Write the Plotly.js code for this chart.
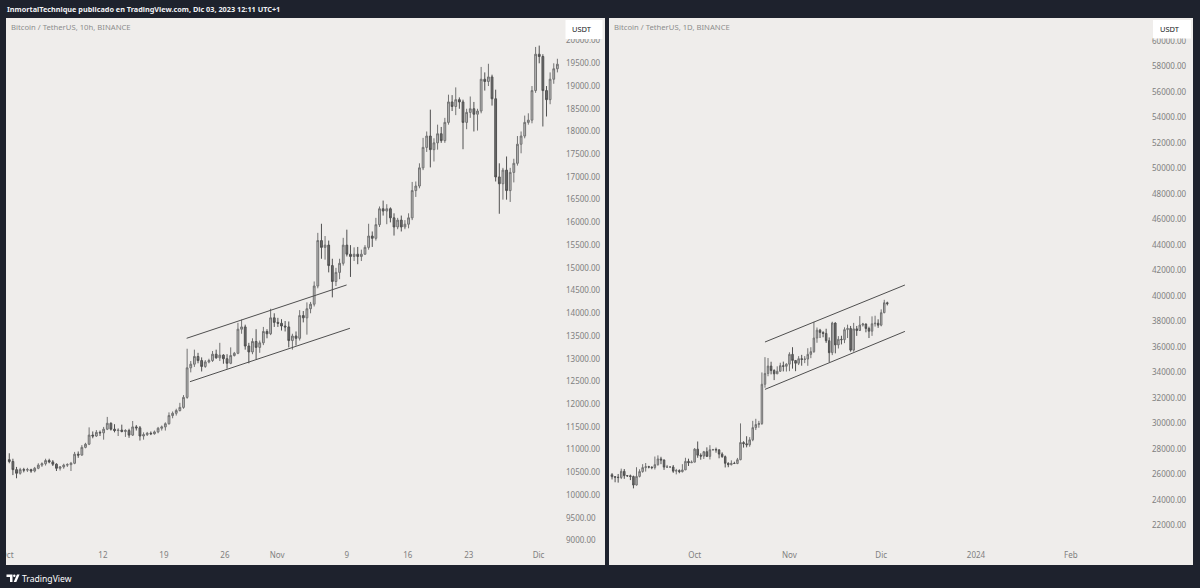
<!DOCTYPE html>
<html><head><meta charset="utf-8">
<script src="https://cdn.plot.ly/plotly-3.0.1.min.js"></script>
<style>html,body{margin:0;padding:0;background:#1e222d;}#chart{width:1200px;height:588px;}</style>
</head><body><div id="chart"></div>
<script>
// ---------- Left chart: Bitcoin / TetherUS, 10h, BINANCE (2020) ----------
const LEFT_START = '2020-10-01T06:00:00Z';
const LEFT_STEP_HOURS = 10;
const leftOpen = [10780,10740,10560,10480,10560,10550,10560,10530,10590,10660,
10690,10760,10730,10680,10590,10620,10660,10670,10700,10900,
10880,11050,11120,11320,11300,11380,11370,11450,11580,11450,
11420,11430,11400,11420,11320,11500,11480,11300,11330,11360,
11350,11390,11470,11500,11570,11750,11800,11860,11930,12150,
12800,12880,13050,12960,12830,12930,12960,13100,13020,13080,
13000,12900,13070,13120,13650,13700,13280,13150,13380,13250,
13350,13600,13550,13900,13800,13780,13720,13700,13400,13500,
13450,13950,13900,14100,14200,14600,15600,15450,15500,15050,
14700,14900,15100,15500,15300,15250,15300,15250,15300,15450,
15700,15650,15950,16300,16250,16300,16100,15900,16050,15900,
15960,16100,16700,16800,17200,17650,17900,17600,17750,17950,
17800,18200,18650,18550,18700,18650,18200,18420,18500,18380,
18450,19150,19100,19200,18720,17000,16850,17150,16700,17100,
17300,17720,17900,18200,18250,18900,19700,19650,18900,18700,
19150,19380];
const leftHigh = [10920,10800,10620,10600,10600,10600,10580,10620,10700,10720,
10800,10800,10770,10700,10640,10690,10700,10730,10950,10960,
11100,11150,11490,11400,11430,11420,11500,11720,11600,11560,
11470,11550,11450,11460,11630,11540,11520,11380,11390,11400,
11420,11500,11530,11600,11820,11840,11900,12030,12200,13220,
12950,13200,13130,13030,12970,13000,13170,13200,13350,13100,
13100,13250,13150,13790,13860,13750,13350,13450,13650,13400,
13700,13650,14100,14000,13900,13870,13830,13820,13550,13600,
14070,14050,14240,14250,14700,15770,15970,15700,15600,15200,
15000,15200,15660,15840,15500,15450,15460,15400,15500,15970,
15800,16100,16350,16480,16400,16330,16200,16100,16150,16050,
16200,16890,16900,17300,17860,18000,18480,17850,18150,18100,
18300,18810,18800,18970,18750,18700,18500,18770,18650,18500,
19420,19300,19490,19250,18920,17300,17200,17450,17200,17400,
17900,18000,18350,18400,19000,19860,19890,19700,19000,19300,
19500,19600];
const leftLow = [10700,10440,10370,10450,10500,10510,10490,10500,10570,10620,
10650,10700,10640,10530,10540,10580,10620,10530,10680,10820,
10870,11030,11100,11250,11280,11300,11220,11430,11420,11380,
11300,11380,11280,11260,11300,11420,11200,11220,11300,11320,
11330,11360,11420,11420,11550,11690,11750,11840,11900,12120,
12700,12820,12900,12720,12800,12900,12930,13000,12950,12890,
12780,12880,13050,13100,13550,13200,12900,13100,12990,13130,
13300,13450,13520,13700,13700,13620,13600,13250,13200,13290,
13400,13800,13530,14000,14150,14550,15200,15180,14900,14350,
14600,14750,15050,15250,14800,15150,15080,15150,15290,15400,
15460,15600,15900,16150,15960,16000,15710,15850,15800,15850,
15870,16050,16560,16750,17150,17550,17210,17340,17600,17750,
17750,18150,18450,18360,18500,17610,18050,18300,18000,18020,
18400,18900,19000,18570,16900,16190,16500,16500,16450,16880,
17250,17520,17850,18150,18180,18850,19500,18110,18330,18600,
19050,19300];
const leftClose = [10740,10560,10480,10560,10550,10560,10530,10590,10660,10690,
10760,10730,10680,10590,10620,10660,10670,10700,10900,10880,
11050,11120,11320,11300,11380,11370,11450,11580,11450,11420,
11430,11400,11420,11320,11500,11480,11300,11330,11360,11350,
11390,11470,11500,11570,11750,11800,11860,11930,12150,12800,
12880,13050,12960,12830,12930,12960,13100,13020,13080,13000,
12900,13070,13120,13650,13700,13280,13150,13380,13250,13350,
13600,13550,13900,13800,13780,13720,13700,13400,13500,13450,
13950,13900,14100,14200,14600,15600,15450,15500,15050,14700,
14900,15100,15500,15300,15250,15300,15250,15300,15450,15700,
15650,15950,16300,16250,16300,16100,15900,16050,15900,15960,
16100,16700,16800,17200,17650,17900,17600,17750,17950,17800,
18200,18650,18550,18700,18650,18200,18420,18500,18380,18450,
19150,19100,19200,18720,17000,16850,17150,16700,17100,17300,
17720,17900,18200,18250,18900,19700,19650,18900,18700,19150,
19380,19480];
const leftTickDates = ['2020-10-01','2020-10-12','2020-10-19','2020-10-26','2020-11-01','2020-11-09','2020-11-16','2020-11-23','2020-12-01'];
const leftTickText = ['Oct','12','19','26','Nov','9','16','23','Dic'];
const leftPriceTicks = [9000,9500,10000,10500,11000,11500,12000,12500,13000,13500,14000,14500,15000,15500,16000,16500,17000,17500,18000,18500,19000,19500,20000];
// channel lines drawn on the left chart
const leftUpperLineX = ['2020-10-21 14:40','2020-11-08 23:20'];
const leftUpperLineY = [13450,14623];
const leftLowerLineX = ['2020-10-21 23:45','2020-11-09 08:30'];
const leftLowerLineY = [12495,13670];

// ---------- Right chart: Bitcoin / TetherUS, 1D, BINANCE (2023) ----------
const RIGHT_START = '2023-09-03T00:00:00Z';
const rightOpen = [25870,25970,25815,25780,25750,26240,25900,25890,25830,25160,25840,26220,26530,26600,26570,26530,26760,27210,27130,26570,26580,26580,26250,26300,26210,26350,27020,26910,
26960,27980,27500,27430,27780,27410,27930,27950,27920,27590,27390,26870,26760,26860,26850,27150,28500,28400,28320,28710,29670,29910,29990,33070,33920,34500,34150,33890,34090,34530,34480,
34650,35420,34940,34720,35080,35020,35050,35420,35630,36700,37320,37140,37060,36490,35550,37880,36160,36600,36570,37360,37450,35750,37420,37290,37720,37800,37450,37240,37820,37860,
37710,38690,39470];
const rightHigh = [26130,26100,25850,26030,26450,26420,25950,25980,25900,26560,26400,26800,26890,26670,26620,27400,27490,27380,27160,26740,26630,26730,26430,26390,26800,27300,27230,27090,
28060,28580,27650,27840,28120,28290,28000,28100,27980,27730,27480,26940,27100,26990,27290,30000,28600,28990,28920,30200,30360,30200,34000,35200,35130,34840,34250,34480,34760,34850,34720,
35580,35980,34950,35280,35380,35280,35900,35980,37970,37530,37420,37230,37430,36750,37980,37930,36850,36880,37540,37750,37650,37890,37650,38420,37890,37840,37590,38400,38450,38170,
38950,39700,39550];
const rightLow = [25780,25600,25380,25350,25630,25650,25800,25550,24900,25130,25760,26130,26220,26470,26400,26380,26680,26800,26350,26500,26520,26120,26000,26090,26150,26340,26660,26890,
26950,27300,27150,27210,27360,27170,27850,27700,27260,27300,26540,26560,26700,26820,26800,27110,28100,28120,28170,28600,29480,29660,29880,32800,33700,33850,33400,33870,34050,34080,34070,
34100,34300,34100,34580,34530,34730,34520,35120,35540,36330,36700,36760,36320,34800,35360,35500,35880,36200,36300,36700,35630,35630,36870,37250,37600,37150,36700,36870,37600,37500,
37620,38650,39260];
const rightClose = [25970,25815,25780,25750,26240,25900,25890,25830,25160,25840,26220,26530,26600,26570,26530,26760,27210,27130,26570,26580,26580,26250,26300,26210,26350,27020,26910,26960,
27980,27500,27430,27780,27410,27930,27950,27920,27590,27390,26870,26760,26860,26850,27150,28500,28400,28320,28710,29670,29910,29990,33070,33920,34500,34150,33890,34090,34530,34480,34650,
35420,34940,34720,35080,35020,35050,35420,35630,36700,37320,37140,37060,36490,35550,37880,36160,36600,36570,37360,37450,35750,37420,37290,37720,37800,37450,37240,37820,37860,37710,
38690,39470,39400];
const rightTickDates = ['2023-10-01','2023-11-01','2023-12-01','2024-01-01','2024-02-01'];
const rightTickText = ['Oct','Nov','Dic','2024','Feb'];
const rightPriceTicks = [22000,24000,26000,28000,30000,32000,34000,36000,38000,40000,42000,44000,46000,48000,50000,52000,54000,56000,58000,60000];
const rightUpperLineX = ['2023-10-24','2023-12-08 18:00'];
const rightUpperLineY = [36389,40863];
const rightLowerLineX = ['2023-10-24','2023-12-08 18:00'];
const rightLowerLineY = [32669,37221];

// ---------- texts ----------
const headerText = 'InmortalTechnique publicado en TradingView.com, Dic 03, 2023 12:11 UTC+1';
const leftLegend = 'Bitcoin / TetherUS, 10h, BINANCE';
const rightLegend = 'Bitcoin / TetherUS, 1D, BINANCE';
const currencyText = 'USDT';
const brandText = 'TradingView';

// ---------- build ----------
function fmt(d){ return d.toISOString().slice(0,16).replace('T',' '); }
const leftTimes = leftClose.map((_, i) => fmt(new Date(Date.parse(LEFT_START) + i*LEFT_STEP_HOURS*3600000)));
const rightTimes = rightClose.map((_, i) => fmt(new Date(Date.parse(RIGHT_START) + i*86400000)));

const W = 1200, H = 588;
const X = px => px / W;
const Y = py => 1 - py / H;
const FONT = 'Noto Sans, Liberation Sans, sans-serif';
const DARK = '#1e222d', PANEL = '#efedeb', TICK = '#808080';

const candleStyle = {
  increasing: {line: {color: '#727272', width: 1}, fillcolor: '#bcbcbc'},
  decreasing: {line: {color: '#505050', width: 1}, fillcolor: '#6c6c6c'},
  whiskerwidth: 0, showlegend: false, hoverinfo: 'skip'
};
const lineStyle = {mode: 'lines', line: {color: '#4f4f4f', width: 1}, showlegend: false, hoverinfo: 'skip'};

const traces = [
  Object.assign({type: 'candlestick', x: leftTimes, open: leftOpen, high: leftHigh, low: leftLow, close: leftClose, xaxis: 'x', yaxis: 'y'}, candleStyle),
  Object.assign({type: 'scatter', x: leftUpperLineX, y: leftUpperLineY, xaxis: 'x', yaxis: 'y'}, lineStyle),
  Object.assign({type: 'scatter', x: leftLowerLineX, y: leftLowerLineY, xaxis: 'x', yaxis: 'y'}, lineStyle),
  Object.assign({type: 'candlestick', x: rightTimes, open: rightOpen, high: rightHigh, low: rightLow, close: rightClose, xaxis: 'x2', yaxis: 'y2'}, candleStyle),
  Object.assign({type: 'scatter', x: rightUpperLineX, y: rightUpperLineY, xaxis: 'x2', yaxis: 'y2'}, lineStyle),
  Object.assign({type: 'scatter', x: rightLowerLineX, y: rightLowerLineY, xaxis: 'x2', yaxis: 'y2'}, lineStyle)
];

const tickFont = {family: FONT, size: 8, color: TICK};
const xBase = {type: 'date', showgrid: false, zeroline: false, showline: false, ticks: '', tickfont: tickFont,
  rangeslider: {visible: false}, fixedrange: true, automargin: false, tickmode: 'array'};
const yBase = {side: 'right', showgrid: false, zeroline: false, showline: false, ticks: '', tickfont: tickFont,
  tickformat: '.2f', fixedrange: true, automargin: false, tickmode: 'array', domain: [Y(549), Y(18)]};

const rect = (x0, y0, x1, y1, color, layer) => ({type: 'rect', xref: 'paper', yref: 'paper',
  x0: X(x0), x1: X(x1), y0: Y(y1), y1: Y(y0), fillcolor: color, line: {width: 0}, layer: layer});
const pathPx = pts => 'M' + pts.map(p => X(p[0]) + ',' + Y(p[1])).join(' L') + ' Z';
const note = (text, px, py, size, color, weight) => ({text: text, xref: 'paper', yref: 'paper', x: X(px), y: Y(py),
  xanchor: 'left', yanchor: 'middle', showarrow: false, font: {family: FONT, size: size, color: color, weight: weight || 'normal'}});

const layout = {
  width: W, height: H, margin: {l: 0, r: 0, t: 0, b: 0},
  paper_bgcolor: DARK, plot_bgcolor: 'rgba(0,0,0,0)', hovermode: false, showlegend: false,
  xaxis: Object.assign({}, xBase, {domain: [X(6), X(565)], anchor: 'y',
    range: ['2020-09-30 21:00', '2020-12-04 01:00'], tickvals: leftTickDates, ticktext: leftTickText}),
  yaxis: Object.assign({}, yBase, {anchor: 'x', range: [8814, 20497], tickvals: leftPriceTicks}),
  xaxis2: Object.assign({}, xBase, {domain: [X(610), X(1151)], anchor: 'y2',
    range: ['2023-09-03 08:00', '2024-02-27 05:00'], tickvals: rightTickDates, ticktext: rightTickText}),
  yaxis2: Object.assign({}, yBase, {anchor: 'x2', range: [20141, 61821], tickvals: rightPriceTicks}),
  shapes: [
    rect(6, 18, 605, 565, PANEL, 'below'),
    rect(609, 18, 1193, 565, PANEL, 'below'),
    rect(0, 0, 6, 588, DARK, 'above'),
    rect(565.5, 20, 602.5, 39, '#ffffff', 'above'),
    rect(1153, 20, 1191, 38.5, '#ffffff', 'above'),
    {type: 'path', xref: 'paper', yref: 'paper', layer: 'above', fillcolor: '#ffffff', line: {width: 0},
     path: pathPx([[6.5,574.5],[12.5,574.5],[12.5,582],[10,582],[10,577],[6.5,577]])},
    {type: 'circle', xref: 'paper', yref: 'paper', layer: 'above', fillcolor: '#ffffff', line: {width: 0},
     x0: X(13.1), x1: X(15.5), y0: Y(577), y1: Y(574.6)},
    {type: 'path', xref: 'paper', yref: 'paper', layer: 'above', fillcolor: '#ffffff', line: {width: 0},
     path: pathPx([[17,574.5],[19.6,574.5],[16.3,582],[13.7,582]])}
  ],
  annotations: [
    note(headerText, 5, 9.5, 7.3, '#f0f1f4', 'bold'),
    note(leftLegend, 9, 27, 7.7, '#8d8d8d'),
    note(rightLegend, 612, 27, 7.7, '#8d8d8d'),
    note(currencyText, 570, 29, 7.5, '#131722'),
    note(currencyText, 1158, 29, 7.5, '#131722'),
    note(brandText, 20, 578.5, 8.6, '#ffffff')
  ]
};

Plotly.newPlot('chart', traces, layout, {staticPlot: true, displayModeBar: false});
</script>
</body></html>
